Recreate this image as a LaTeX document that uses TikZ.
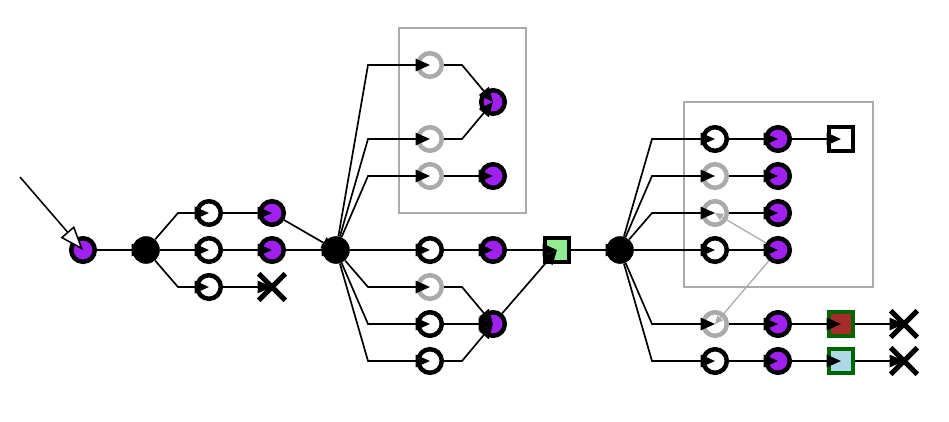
\documentclass[tikz,border=0pt]{standalone}
\usepackage{tikz}
\usetikzlibrary{arrows.meta,positioning,fit,backgrounds,calc,shapes.misc}
\usepackage{xcolor}
\definecolor{stpurple}{RGB}{160,32,240}
\definecolor{stgray}{RGB}{170,170,170}
\definecolor{stgreen}{RGB}{0,100,0}
\definecolor{stlime}{RGB}{144,238,144}
\definecolor{stbrown}{RGB}{165,42,42}
\definecolor{stblue}{RGB}{173,216,230}
\tikzset{
  opennode/.style={circle,draw=black,line width=3.2pt,minimum size=5.9mm,inner sep=0pt,fill=white},
  ghostnode/.style={opennode,draw=stgray},
  donenode/.style={opennode,fill=stpurple},
  hubnode/.style={circle,fill=black,minimum size=6.9mm,inner sep=0pt},
  boxnode/.style={rectangle,draw=black,line width=3.2pt,minimum size=5.9mm,inner sep=0pt,fill=white},
  killnode/.style={cross out,draw=black,line width=3.6pt,minimum size=5.4mm,inner sep=0pt},
  flowarrow/.style={-{Triangle[length=3.6mm,width=3.1mm]},line width=1.2pt},
  hintarrow/.style={-{Triangle[length=2mm,width=1.8mm]},line width=0.9pt,draw=stgray,fill=stgray},
  entryarrow/.style={-{Triangle[fill=white,length=6mm,width=4.4mm]},line width=1.1pt},
  groupbox/.style={draw=stgray,line width=1.1pt}
}

\begin{document}
\begin{tikzpicture}
  \useasboundingbox (0,0) rectangle (23.725,-10.525);
  % groups
  \draw[groupbox] (9.975,-0.7) rectangle (13.15,-5.325);
  \draw[groupbox] (17.1,-2.55) rectangle (21.825,-7.175);
  % left part
  \coordinate (entry) at (0.5,-4.425);
  \node[donenode] (src) at (2.075,-6.25) {};
  \node[hubnode] (h1) at (3.65,-6.25) {};
  \node[opennode] (c1) at (5.225,-5.325) {};
  \node[opennode] (c2) at (5.225,-6.25) {};
  \node[opennode] (c3) at (5.225,-7.175) {};
  \node[donenode] (p1) at (6.8,-5.325) {};
  \node[donenode] (p2) at (6.8,-6.25) {};
  \node[killnode] (x1) at (6.8,-7.175) {};
  % middle part
  \node[hubnode] (h2) at (8.4,-6.25) {};
  \node[ghostnode] (a1) at (10.75,-1.625) {};
  \node[ghostnode] (a2) at (10.75,-3.475) {};
  \node[ghostnode] (a3) at (10.75,-4.4) {};
  \node[opennode] (a4) at (10.75,-6.25) {};
  \node[ghostnode] (a5) at (10.75,-7.175) {};
  \node[opennode] (a6) at (10.75,-8.1) {};
  \node[opennode] (a7) at (10.75,-9.025) {};
  \node[donenode] (b1) at (12.325,-2.55) {};
  \node[donenode] (b2) at (12.325,-4.4) {};
  \node[donenode] (b3) at (12.325,-6.25) {};
  \node[donenode] (b4) at (12.325,-8.1) {};
  \node[boxnode,fill=stlime] (join) at (13.925,-6.25) {};
  % right part
  \node[hubnode] (h3) at (15.5,-6.25) {};
  \node[opennode] (d1) at (17.875,-3.475) {};
  \node[ghostnode] (d2) at (17.875,-4.4) {};
  \node[ghostnode] (d3) at (17.875,-5.325) {};
  \node[opennode] (d4) at (17.875,-6.25) {};
  \node[ghostnode] (d5) at (17.875,-8.1) {};
  \node[opennode] (d6) at (17.875,-9.025) {};
  \node[donenode] (e1) at (19.45,-3.475) {};
  \node[donenode] (e2) at (19.45,-4.4) {};
  \node[donenode] (e3) at (19.45,-5.325) {};
  \node[donenode] (e4) at (19.45,-6.25) {};
  \node[donenode] (e5) at (19.45,-8.1) {};
  \node[donenode] (e6) at (19.45,-9.025) {};
  \node[boxnode] (s1) at (21.025,-3.475) {};
  \node[boxnode,draw=stgreen,fill=stbrown] (s2) at (21.025,-8.1) {};
  \node[boxnode,draw=stgreen,fill=stblue] (s3) at (21.025,-9.025) {};
  \node[killnode] (x2) at (22.6,-8.1) {};
  \node[killnode] (x3) at (22.6,-9.025) {};
  % edges, left
  \draw[entryarrow] (entry) -- (src.center);
  \draw[flowarrow] (src) -- (h1.center);
  \draw[flowarrow] (h1) -- ($(h1.center |- c1)+(0.8,0)$) -- (c1.center);
  \draw[flowarrow] (h1) -- (c2.center);
  \draw[flowarrow] (h1) -- ($(h1.center |- c3)+(0.8,0)$) -- (c3.center);
  \draw[flowarrow] (c1) -- (p1.center);
  \draw[flowarrow] (c2) -- (p2.center);
  \draw[flowarrow] (c3) -- (x1.center);
  \draw[flowarrow] (p1) -- (h2.center);
  \draw[flowarrow] (p2) -- (h2.center);
  % edges, middle
  \draw[flowarrow] (h2) -- ($(h2.center |- a1)+(0.8,0)$) -- (a1.center);
  \draw[flowarrow] (h2) -- ($(h2.center |- a2)+(0.8,0)$) -- (a2.center);
  \draw[flowarrow] (h2) -- ($(h2.center |- a3)+(0.8,0)$) -- (a3.center);
  \draw[flowarrow] (h2) -- (a4.center);
  \draw[flowarrow] (h2) -- ($(h2.center |- a5)+(0.8,0)$) -- (a5.center);
  \draw[flowarrow] (h2) -- ($(h2.center |- a6)+(0.8,0)$) -- (a6.center);
  \draw[flowarrow] (h2) -- ($(h2.center |- a7)+(0.8,0)$) -- (a7.center);
  \draw[flowarrow] (a1) -- ($(a1.center)+(0.8,0)$) -- (b1.center);
  \draw[flowarrow] (a2) -- ($(a2.center)+(0.8,0)$) -- (b1.center);
  \draw[flowarrow] (a3) -- (b2.center);
  \draw[flowarrow] (a4) -- (b3.center);
  \draw[flowarrow] (a5) -- ($(a5.center)+(0.8,0)$) -- (b4.center);
  \draw[flowarrow] (a6) -- (b4.center);
  \draw[flowarrow] (a7) -- ($(a7.center)+(0.8,0)$) -- (b4.center);
  \draw[flowarrow] (b3) -- (join.center);
  \draw[flowarrow] (b4) -- (join.center);
  \draw[flowarrow] (join) -- (h3.center);
  % edges, right
  \draw[flowarrow] (h3) -- ($(h3.center |- d1)+(0.8,0)$) -- (d1.center);
  \draw[flowarrow] (h3) -- ($(h3.center |- d2)+(0.8,0)$) -- (d2.center);
  \draw[flowarrow] (h3) -- ($(h3.center |- d3)+(0.8,0)$) -- (d3.center);
  \draw[flowarrow] (h3) -- (d4.center);
  \draw[flowarrow] (h3) -- ($(h3.center |- d5)+(0.8,0)$) -- (d5.center);
  \draw[flowarrow] (h3) -- ($(h3.center |- d6)+(0.8,0)$) -- (d6.center);
  \draw[flowarrow] (d1) -- (e1.center);
  \draw[flowarrow] (d2) -- (e2.center);
  \draw[flowarrow] (d3) -- (e3.center);
  \draw[flowarrow] (d4) -- (e4.center);
  \draw[flowarrow] (d5) -- (e5.center);
  \draw[flowarrow] (d6) -- (e6.center);
  \draw[flowarrow] (e1) -- (s1.center);
  \draw[flowarrow] (e5) -- (s2.center);
  \draw[flowarrow] (e6) -- (s3.center);
  \draw[flowarrow] (s2) -- (x2.center);
  \draw[flowarrow] (s3) -- (x3.center);
  \draw[hintarrow] (e4) -- (d3.center);
  \draw[hintarrow] (e4) -- (d5.center);
\end{tikzpicture}
\end{document}
